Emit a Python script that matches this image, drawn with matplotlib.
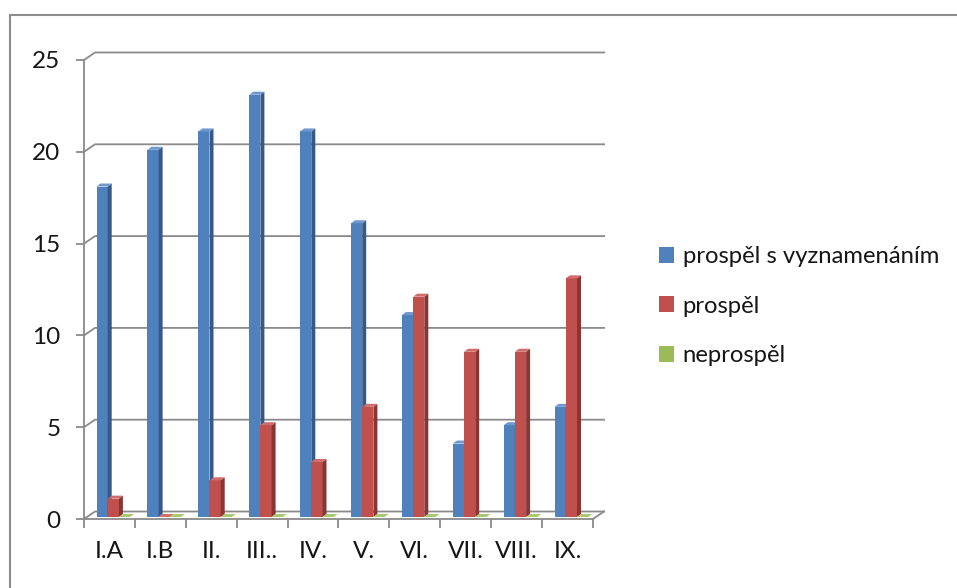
import matplotlib
matplotlib.use("Agg")
import matplotlib.pyplot as plt
from matplotlib.patches import Polygon, Rectangle, Patch

categories = ["I.A", "I.B", "II.", "III..", "IV.", "V.", "VI.", "VII.", "VIII.", "IX."]
s_vyznamenanim = [18, 20, 21, 23, 21, 16, 11, 4, 5, 6]
prospel = [1, 0, 2, 5, 3, 6, 12, 9, 9, 13]
neprospel = [0, 0, 0, 0, 0, 0, 0, 0, 0, 0]
series_names = ["prospěl s vyznamenáním", "prospěl", "neprospěl"]
yticks = [0, 5, 10, 15, 20, 25]

plt.rcParams['font.family'] = ['Lato', 'DejaVu Sans']

W, H = 957, 588
fig = plt.figure(figsize=(W / 100, H / 100), dpi=100)

AX0_PX, PITCH = 84.0, 50.9
Y0_PX, PPU = 519.0, 18.36

def X(px):
    return -0.5 + (px - AX0_PX) / PITCH

def Y(py):
    return (Y0_PX - py) / PPU

PL, PR, PT, PB = 40, 650, 30, 560
ax = fig.add_axes([PL / W, (H - PB) / H, (PR - PL) / W, (PB - PT) / H])
ax.set_xlim(X(PL), X(PR))
ax.set_ylim(Y(PB), Y(PT))
ax.patch.set_alpha(0)

GRAY = "#8a8a8a"
LW = 1.3
DX = 11 / PITCH
DY = 7.5 / PPU
XR_BACK = X(605)
FS = 17.5
TXT = "#161616"

for v in yticks:
    ax.plot([-0.5, -0.5 + DX, XR_BACK], [v, v + DY, v + DY], color=GRAY, lw=LW,
            solid_capstyle='butt', zorder=1)
ax.plot([9.5, 9.5 + DX], [0, DY], color=GRAY, lw=LW, zorder=1)

for s in ["top", "right"]:
    ax.spines[s].set_visible(False)
ax.spines["left"].set_position(("data", -0.5))
ax.spines["left"].set_bounds(0, 25)
ax.spines["bottom"].set_position(("data", 0))
ax.spines["bottom"].set_bounds(-0.5, 9.5)
for s in ["left", "bottom"]:
    ax.spines[s].set_color(GRAY)
    ax.spines[s].set_linewidth(LW)
    ax.spines[s].set_zorder(1)

ax.set_yticks(yticks)
ax.set_yticklabels([str(v) for v in yticks])
ax.tick_params(axis='y', length=6, width=LW, color=GRAY, pad=11, labelsize=FS,
               labelcolor=TXT)
n = len(categories)
ax.set_xticks([i - 0.5 for i in range(n + 1)])
ax.set_xticklabels([""] * (n + 1))
ax.set_xticks(list(range(n)), minor=True)
ax.set_xticklabels(categories, minor=True)
ax.tick_params(axis='x', which='major', length=6.5, width=LW, color=GRAY)
ax.tick_params(axis='x', which='minor', length=0, pad=16, labelsize=FS,
               labelcolor=TXT)

BASE = Y(517)
BW = 11.2 / PITCH
OFF = 12.5 / PITCH
DDX = 4 / PITCH
DDY = 3 / PPU

styles = [
    ("#4F81BD", "#36598A", "#6F98CC"),
    ("#C0504D", "#8A3533", "#D06D6A"),
    ("#9BBB59", "#6F8A3C", "#A9C870"),
]
all_series = [s_vyznamenanim, prospel, neprospel]

for i in range(n):
    for k, vals in enumerate(all_series):
        face, side, top = styles[k]
        x0 = i - 0.5 + OFF + k * BW
        x1 = x0 + BW
        v = vals[i]
        ax.bar(x0, v, width=BW, bottom=BASE, align='edge', color=face,
               linewidth=0, zorder=3)
        yt = BASE + v
        ax.add_patch(Polygon([(x1, BASE), (x1 + DDX, BASE + DDY),
                              (x1 + DDX, yt + DDY), (x1, yt)],
                             closed=True, facecolor=side, lw=0, zorder=3))
        ax.add_patch(Polygon([(x0, yt), (x0 + DDX, yt + DDY),
                              (x1 + DDX, yt + DDY), (x1, yt)],
                             closed=True, facecolor=top, lw=0, zorder=3))

handles = [Patch(facecolor=styles[k][0], edgecolor='none') for k in range(3)]
leg = fig.legend(handles, series_names, loc='upper left',
                 bbox_to_anchor=(647 / W, 1 - 234 / H), frameon=False,
                 fontsize=17.2, handlelength=0.65, handleheight=0.65,
                 handletextpad=0.35, labelspacing=1.2, borderpad=0,
                 labelcolor=TXT)

fig.add_artist(Rectangle((10 / W, -0.1), 2.0, (H - 15) / H + 0.1,
                         transform=fig.transFigure, fill=False,
                         edgecolor="#8c8c8c", lw=1.5))

fig.savefig("out.png", dpi=100)
